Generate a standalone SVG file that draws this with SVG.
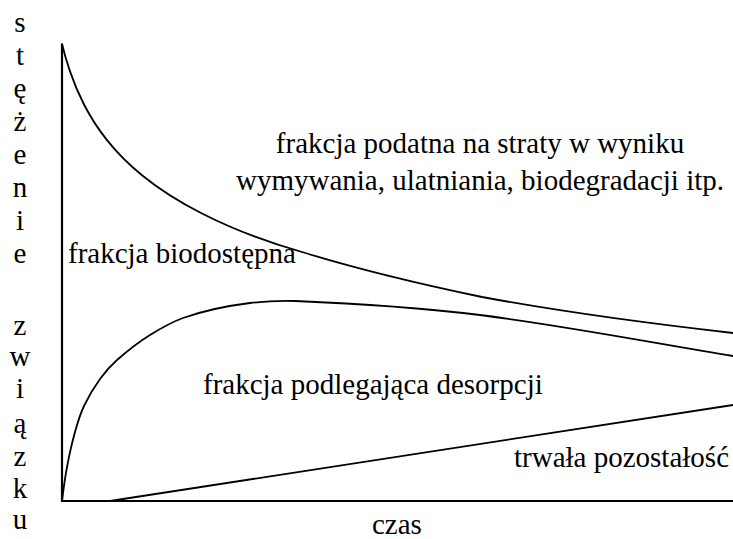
<svg xmlns="http://www.w3.org/2000/svg" width="733" height="539" viewBox="0 0 733 539">
<style>
text{font-family:"Liberation Serif","Times New Roman","DejaVu Serif",serif;font-size:29px;fill:#000}
.c{text-anchor:middle}
.ln{fill:none;stroke:#000;stroke-width:1.8;stroke-linejoin:round;stroke-linecap:round}
.ax{fill:none;stroke:#000;stroke-width:2.2}
</style>
<rect width="733" height="539" fill="#fff"/>
<g id="axis-label" class="c" font-family="Liberation Serif, Times New Roman, DejaVu Serif, serif">
<text x="20" y="32">s</text>
<text x="20" y="65">t</text>
<text x="20" y="98">ę</text>
<text x="20" y="131">ż</text>
<text x="20" y="164">e</text>
<text x="20" y="197">n</text>
<text x="20" y="230">i</text>
<text x="20" y="263">e</text>
<text x="20" y="335">z</text>
<text x="20" y="366">w</text>
<text x="20" y="398">i</text>
<text x="20" y="433">ą</text>
<text x="20" y="466">z</text>
<text x="20" y="498">k</text>
<text x="20" y="529">u</text>
</g>
<g id="axes">
<path class="ax" d="M62,44 V501 H733"/>
</g>
<g id="curves">
<path id="curve-bioavailable" class="ln" d="M62,44 C64.67,54.87 67.33,63.64 70,71.4 C74.67,84.99 79.33,95.45 84,104.5 C91.67,119.37 99.33,130.49 107,140.1 C118.67,154.73 130.33,165.69 142,175.2 C162,191.5 182,203.32 202,213.5 C235.33,230.47 268.67,242.55 302,252 C362,270.5 422,284.5 482,297 C565.67,312.5 649.33,323.5 733,333"/>
<path id="curve-desorption" class="ln" d="M62,501 C63.67,487.67 65.33,475.83 67,467 C69.67,452.87 72.33,441.57 75,432 C78,421.23 81,412.36 84,406 C89.33,394.69 94.67,386.41 100,379 C105.67,371.12 111.33,364.99 117,360 C128,350.32 139,341.82 150,335 C161,328.18 172,322 183,318 C205.33,310 227.67,305.8 250,303 C265,301.2 280,300.6 295,301 C356.67,303.5 418.33,307.5 480,315 C564.33,325.63 648.67,342.09 733,356"/>
<path id="line-residue" class="ln" d="M110,501 L733,405"/>
</g>
<g id="labels" font-family="Liberation Serif, Times New Roman, DejaVu Serif, serif">
<text class="c" x="480" y="153">frakcja podatna na straty w wyniku</text>
<text class="c" x="480" y="190">wymywania, ulatniania, biodegradacji itp.</text>
<text x="68" y="263">frakcja biodostępna</text>
<text x="203" y="394">frakcja podlegająca desorpcji</text>
<text x="514" y="467">trwała pozostałość</text>
<text x="372" y="534">czas</text>
</g>
</svg>
